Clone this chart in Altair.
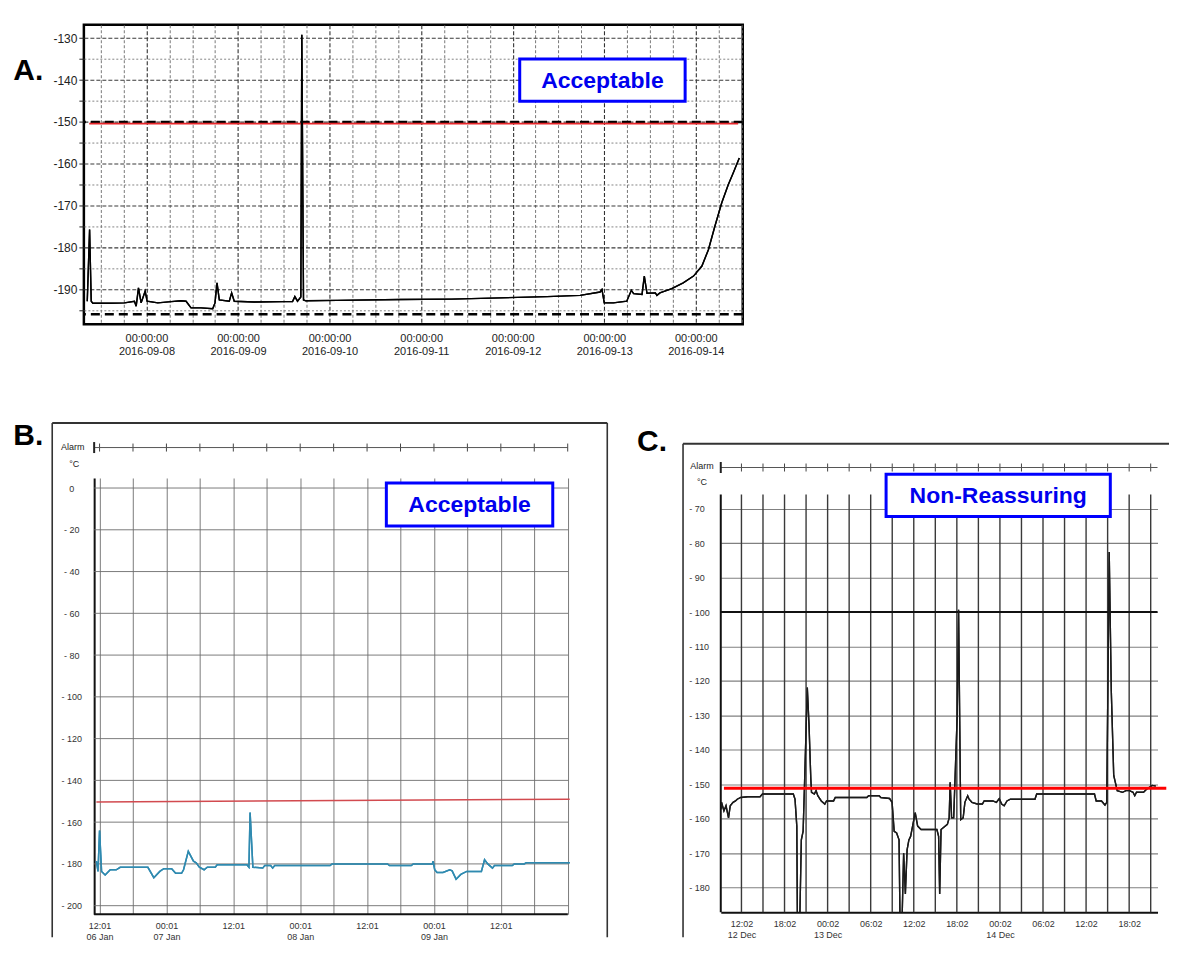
import altair as alt
import pandas as pd

FONT = "Liberation Sans"

# ---------------- Panel A : hours after 2016-09-08 00:00, temperature (°C) ----------------
A_BASE = "2016-09-08 00:00:00"
A_HOURS = [-15.51, -14.9, -14.47, -14.03, -10.1, -5.75, -3.14, -2.69, -2.09, -1.39, -0.34, 0.18,
           2.98, 6.46, 9.08, 10.39, 11.69, 14.31, 17.37, 17.97, 18.50, 19.10, 21.71, 22.33, 23.02,
           28.25, 36.1, 38.3, 38.9, 39.6, 40.47, 40.73, 41.17, 41.78, 50.0, 66.6, 80.0, 92.8, 105.0,
           113.7, 118.9, 119.4, 120.0, 122.4, 125.9, 127.1, 127.7, 129.9, 130.5, 131.2, 133.4, 133.8,
           134.6, 137.7, 140.7, 143.4, 145.6, 147.3, 149.0, 150.8, 152.5, 153.8, 155.4]
A_TEMP = [-192.8, -175.7, -192.8, -193.3, -193.3, -193.2, -192.8, -194.0, -189.6, -193.2, -190.4, -192.8,
          -193.2, -192.9, -192.7, -192.8, -194.4, -194.4, -194.6, -193.2, -188.4, -192.5, -192.8, -190.8,
          -192.8, -193.0, -192.9, -192.9, -191.7, -192.8, -191.8, -129.2, -192.5, -192.7, -192.6, -192.4,
          -192.3, -192.0, -191.7, -191.4, -190.6, -190.0, -193.2, -193.2, -192.8, -190.2, -191.0, -191.2,
          -186.8, -190.9, -190.8, -191.4, -190.8, -189.8, -188.4, -186.8, -184.4, -180.5, -174.9, -169.3,
          -165.0, -162.2, -158.6]
A_DASHED_LEVELS = [-150.0, -195.9]
A_RED_LEVEL = [-150.4]
A_RED_SPAN_HOURS = [-15.0, 155.1]
A_X_DOMAIN_HOURS = [-16.4, 156.3]
A_Y_DOMAIN = [-198.3, -126.8]
A_Y_TICKS = list(range(-195, -129, 5))
A_X_GRID_HOURS = list(range(-12, 157, 6))
A_NOTE = ["Acceptable"]

# ---------------- Panel B : hours after 06 Jan 12:01 ----------------
B_BASE = "2017-01-06 12:01:00"
B_HOURS = [-0.57, -0.28, 0.0, 0.36, 1.0, 1.92, 2.99, 3.7, 8.67, 9.74, 10.81, 11.52, 12.94, 13.65, 14.71,
           15.07, 15.92, 16.85, 17.34, 17.91, 18.76, 19.33, 20.76, 21.11, 26.44, 26.8, 27.01, 27.51, 29.28,
           29.64, 30.71, 31.06, 31.42, 41.37, 41.72, 51.67, 52.03, 55.93, 56.29, 59.7, 59.85, 60.13, 60.56,
           61.62, 62.83, 63.26, 63.97, 64.82, 65.88, 68.51, 69.08, 69.65, 70.5, 70.86, 74.06, 74.41, 76.19,
           76.55, 84.36]
B_TEMP = [-178.7, -183.6, -164.0, -183.6, -185.3, -182.8, -182.8, -181.6, -181.6, -186.6, -183.6, -182.3,
          -182.3, -184.5, -184.5, -182.8, -174.0, -178.7, -179.5, -181.6, -182.8, -181.6, -181.6, -180.4,
          -180.4, -181.6, -155.4, -181.6, -182.0, -180.8, -180.8, -182.0, -180.8, -180.8, -180.0, -180.0,
          -180.8, -180.8, -180.0, -180.0, -178.7, -182.8, -184.1, -184.1, -182.8, -183.3, -187.3, -185.0,
          -183.6, -183.6, -178.0, -180.0, -182.0, -180.8, -180.8, -180.0, -180.0, -179.5, -179.5]
B_RED_HOURS = [-0.57, 84.36]
B_RED_TEMP = [-150.3, -149.0]
B_X_DOMAIN_HOURS = [-0.97, 84.47]
B_Y_DOMAIN = [-204.1, 4.8]
B_Y_TICKS = list(range(-200, 1, 20))
B_X_GRID_HOURS = list(range(0, 85, 6))
B_NOTE = ["Acceptable"]

# ---------------- Panel C : hours after 12 Dec 12:02 ----------------
C_BASE = "2016-12-12 12:02:00"
C_HOURS = [-2.85, -2.78, -2.44, -2.15, -1.8, -1.56, -1.17, -0.83, -0.59, -0.1, 0.88, 2.59, 2.93, 7.22,
           7.46, 7.71, 7.8, 8.1, 8.34, 8.59, 8.78, 9.02, 9.17, 9.41, 9.66, 9.76, 10.15, 10.39, 10.63, 11.12,
           11.61, 11.85, 12.83, 13.07, 17.46, 17.71, 19.17, 19.41, 20.63, 20.98, 21.27, 21.61, 21.95, 22.1,
           22.34, 22.59, 22.83, 23.07, 23.32, 23.56, 24.2, 24.54, 25.02, 27.22, 27.46, 27.61, 27.8, 28.68,
           28.93, 29.07, 29.27, 29.56, 30.05, 30.24, 30.54, 30.88, 31.12, 31.51, 31.71, 32.1, 32.83, 33.56,
           33.8, 35.02, 35.51, 35.9, 36.24, 36.59, 36.98, 37.46, 40.88, 41.12, 49.17, 49.41, 50.15, 50.63,
           50.88, 51.22, 51.51, 51.85, 52.34, 53.07, 53.56, 54.05, 54.54, 54.78, 55.02, 56.0, 56.49, 57.22,
           57.71]
C_TEMP = [-157.2, -155.2, -157.7, -156.2, -159.7, -156.2, -155.2, -154.8, -154.3, -153.8, -153.6, -153.6,
          -152.8, -152.8, -154.3, -162.1, -192.0, -192.0, -166.1, -163.6, -150.3, -132.7, -121.9, -132.7,
          -148.4, -152.3, -152.8, -151.8, -153.3, -154.8, -155.7, -154.8, -154.8, -153.8, -153.8, -153.3,
          -153.3, -153.8, -154.1, -155.2, -163.6, -164.1, -166.1, -192.0, -192.0, -170.0, -181.8, -169.0,
          -166.1, -165.1, -158.2, -162.1, -163.1, -163.1, -165.1, -181.8, -163.1, -161.6, -159.7, -149.4,
          -159.7, -159.7, -130.0, -99.3, -160.2, -159.7, -155.2, -153.3, -154.3, -155.2, -155.7, -155.7,
          -154.8, -154.8, -155.2, -154.1, -155.7, -156.2, -154.8, -154.3, -154.3, -152.8, -152.8, -154.8,
          -154.8, -156.0, -155.2, -82.6, -122.8, -147.4, -151.8, -152.3, -151.8, -151.8, -152.3, -153.3,
          -152.3, -152.3, -151.3, -150.3, -150.5]
C_RED_HOURS = [-2.44, 59.17]
C_RED_LEVEL = -151.1
C_X_DOMAIN_HOURS = [-2.88, 57.95]
C_Y_DOMAIN = [-187.1, -61.1]
C_Y_TICKS = list(range(-180, -69, 10))
C_X_GRID_HOURS = list(range(0, 58, 3))
C_LABEL_HOURS = list(range(0, 55, 6))
C_GRID_TOP = -65.9
C_STRONG_LEVEL = [-100]
C_NOTE = ["Non-Reassuring"]


def stamps(base, hours):
    b = pd.Timestamp(base)
    return [(b + pd.Timedelta(hours=h)).round("s") for h in hours]


def dt(ts):
    return alt.DateTime(year=ts.year, month=ts.month, date=ts.day,
                        hours=ts.hour, minutes=ts.minute, seconds=ts.second)


def dts(base, hours):
    return [dt(s) for s in stamps(base, hours)]


def one(**kw):
    return alt.Chart(pd.DataFrame({k: [v] for k, v in kw.items()}))


def letter(txt, x, y):
    return one(p=txt).mark_text(font=FONT, fontSize=30, fontWeight="bold", align="left",
                                baseline="alphabetic", color="black").encode(
        x=alt.value(x), y=alt.value(y), text="p:N")


def note(txt, x1, x2, y1, y2):
    box = one(p=txt).mark_rect(fill="white", stroke="#0000ff", strokeWidth=3).encode(
        x=alt.value(x1), x2=alt.value(x2), y=alt.value(y1), y2=alt.value(y2))
    lab = one(p=txt).mark_text(font=FONT, fontSize=23, fontWeight="bold", color="#0000ee",
                               align="center", baseline="middle").encode(
        x=alt.value((x1 + x2) / 2), y=alt.value((y1 + y2) / 2 + 1), text="p:N")
    return [box, lab]


def vrule(x1, x2, y, w=1.5, color="#222"):
    return one(k=0).mark_rule(color=color, strokeWidth=w).encode(
        x=alt.value(x1), x2=alt.value(x2), y=alt.value(y))


def hrule(x, y1, y2, w=1.5, color="#222"):
    return one(k=0).mark_rule(color=color, strokeWidth=w).encode(
        x=alt.value(x), y=alt.value(y1), y2=alt.value(y2))


def small_text(txt, x, y, size=9):
    return one(p=txt).mark_text(font=FONT, fontSize=size, color="#222", align="center",
                                baseline="middle").encode(x=alt.value(x), y=alt.value(y), text="p:N")


def cond(test, yes, no):
    return {"condition": {"test": test, "value": yes}, "value": no}


MANY = 500   # keep every explicit tick value (Vega thins them down to tickCount otherwise)

# ======================= Panel A =======================
a_xs = alt.Scale(domain=dts(A_BASE, A_X_DOMAIN_HOURS), nice=False)
a_ys = alt.Scale(domain=A_Y_DOMAIN, nice=False, zero=False)
a_df = pd.DataFrame({"t": stamps(A_BASE, A_HOURS), "v": A_TEMP})

A_X_MAJOR = "hours(datum.value) == 0"
A_Y_MAJOR = "abs(datum.value) % 10 == 0"
a_line = alt.Chart(a_df).mark_line(color="black", strokeWidth=1.4).encode(
    x=alt.X("t:T", scale=a_xs, title=None, axis=alt.Axis(
        values=dts(A_BASE, A_X_GRID_HOURS), tickCount=MANY,
        labelExpr="hours(datum.value) == 0 ? [timeFormat(datum.value, '%H:%M:%S'), timeFormat(datum.value, '%Y-%m-%d')] : ''",
        grid=True, gridDash=cond(A_X_MAJOR, [4, 2], [3, 2]),
        gridColor=cond(A_X_MAJOR, "#333", "#6a6a6a"), gridWidth=cond(A_X_MAJOR, 1.1, 0.9),
        ticks=False, domain=False,
        labelFont=FONT, labelFontSize=11, labelColor="#222", labelPadding=8, labelLineHeight=13,
        labelOverlap=False, labelFlush=False, labelBaseline="top")),
    y=alt.Y("v:Q", scale=a_ys, title=None, axis=alt.Axis(
        values=A_Y_TICKS, tickCount=MANY,
        labelExpr="abs(datum.value) % 10 == 0 ? '-' + abs(datum.value) : ''",
        grid=True, gridDash=cond(A_Y_MAJOR, [4, 2], [2, 2]),
        gridColor=cond(A_Y_MAJOR, "#3a3a3a", "#777777"), gridWidth=cond(A_Y_MAJOR, 1.1, 0.9),
        ticks=True, tickSize=5,
        tickColor="#222", domain=False, labelFont=FONT, labelFontSize=12, labelColor="#222",
        labelPadding=2, labelOverlap=False, labelFlush=False)),
)
a_dash = alt.Chart(pd.DataFrame({"v": A_DASHED_LEVELS})).mark_rule(
    color="black", strokeWidth=2.6, strokeDash=[9, 5]).encode(y=alt.Y("v:Q", scale=a_ys, title=None))
a_red_df = pd.DataFrame({"t1": stamps(A_BASE, [A_RED_SPAN_HOURS[0]]),
                         "t2": stamps(A_BASE, [A_RED_SPAN_HOURS[1]]), "v": A_RED_LEVEL})
a_red = alt.Chart(a_red_df).mark_rule(color="#e8262a", strokeWidth=1.8).encode(
    x=alt.X("t1:T", scale=a_xs, title=None), x2="t2:T", y=alt.Y("v:Q", scale=a_ys, title=None))
a_line2 = alt.Chart(a_df).mark_line(color="black", strokeWidth=1.4).encode(
    x=alt.X("t:T", scale=a_xs, title=None), y=alt.Y("v:Q", scale=a_ys, title=None))

panel_a = alt.layer(
    a_line, a_dash, a_red, a_line2,
    *note(A_NOTE[0], 436.6, 602.3, 34.3, 76.7),
    letter("A.", -70.7, 55),
).properties(width=660, height=300,
             view=alt.ViewBackground(stroke="black", strokeWidth=2.5))

# ======================= Panel B =======================
BS = 10.3                 # plot starts this far right of the shared left edge
BW, BH = 477 + BS, 437
b_xs = alt.Scale(domain=dts(B_BASE, B_X_DOMAIN_HOURS), range=[BS, BW], nice=False)
b_ys = alt.Scale(domain=B_Y_DOMAIN, nice=False, zero=False)
b_df = pd.DataFrame({"t": stamps(B_BASE, B_HOURS), "v": B_TEMP})
b_base = alt.Chart(b_df).mark_line(color="#2f8ab0", strokeWidth=1.5).encode(
    x=alt.X("t:T", scale=b_xs, title=None, axis=alt.Axis(
        values=dts(B_BASE, B_X_GRID_HOURS), tickCount=MANY,
        labelExpr="date(datum.value) == 10 ? '' : ((hours(datum.value) == 0 || (date(datum.value) == 6 && hours(datum.value) == 12)) ? [timeFormat(datum.value, '%H:%M'), timeFormat(datum.value, '%d %b')] : (hours(datum.value) == 12 ? timeFormat(datum.value, '%H:%M') : ''))",
        grid=True, gridColor="#6d6d6d", gridWidth=0.9, ticks=False, tickSize=0, domain=False,
        labelFont=FONT, labelFontSize=9, labelColor="#333",
        labelPadding=7, labelLineHeight=11, labelOverlap=False, labelFlush=False, labelBaseline="top")),
    y=alt.Y("v:Q", scale=b_ys, title=None, axis=alt.Axis(
        values=B_Y_TICKS, tickCount=MANY, offset=-BS,
        labelExpr="datum.value == 0 ? '0' : '- ' + abs(datum.value)",
        grid=False, ticks=False, tickSize=0, domain=True,
        domainColor="#111", domainWidth=2, labelFont=FONT, labelFontSize=9, labelColor="#333",
        labelPadding=23, labelAlign="center", labelOverlap=False, labelFlush=False)),
)
b_hgrid = alt.Chart(pd.DataFrame({"v": B_Y_TICKS})).mark_rule(color="#6d6d6d", strokeWidth=0.9).encode(
    y=alt.Y("v:Q", scale=b_ys, title=None), x=alt.value(BS), x2=alt.value(BW - 2))
b_red_df = pd.DataFrame({"t": stamps(B_BASE, B_RED_HOURS), "v": B_RED_TEMP})
b_red = alt.Chart(b_red_df).mark_line(color="#d24a4f", strokeWidth=1.5).encode(
    x=alt.X("t:T", scale=b_xs, title=None), y=alt.Y("v:Q", scale=b_ys, title=None))
b_alarm_ticks = alt.Chart(pd.DataFrame({"t": stamps(B_BASE, B_X_GRID_HOURS)})).mark_rule(
    color="#444", strokeWidth=1).encode(
    x=alt.X("t:T", scale=b_xs, title=None), y=alt.value(-34.5), y2=alt.value(-26.5))
b_line2 = alt.Chart(b_df).mark_line(color="#2f8ab0", strokeWidth=1.5).encode(
    x=alt.X("t:T", scale=b_xs, title=None), y=alt.Y("v:Q", scale=b_ys, title=None))

panel_b = alt.layer(
    b_base, b_hgrid, b_red, b_alarm_ticks, b_line2,
    vrule(BS, BW - 2.5, BH, w=2, color="#111"),
    vrule(BS, BW - 2.5, -30.5, w=1, color="#555"),
    hrule(BS, -36, -25, w=2, color="#222"),
    small_text("Alarm", BS - 21.5, -31.5),
    small_text("°C", BS - 20, -14),
    hrule(BS - 42, -55, 460, w=1.6, color="#333"),
    hrule(BS + 514, -55, 460, w=1.6, color="#333"),
    vrule(BS - 42, BS + 514, -55, w=2, color="#333"),
    *note(B_NOTE[0], BS + 292.7, BS + 459.4, 5, 48),
    letter("B.", -70.7, -33),
).properties(width=BW, height=BH)

# ======================= Panel C =======================
CW, CH = 437.5, 435
c_xs = alt.Scale(domain=dts(C_BASE, C_X_DOMAIN_HOURS), nice=False)
c_ys = alt.Scale(domain=C_Y_DOMAIN, nice=False, zero=False)
c_df = pd.DataFrame({"t": stamps(C_BASE, C_HOURS), "v": C_TEMP})
c_base = alt.Chart(c_df).mark_line(color="#1a1a1a", strokeWidth=1.4, clip=True).encode(
    x=alt.X("t:T", scale=c_xs, title=None, axis=alt.Axis(
        values=dts(C_BASE, C_LABEL_HOURS), tickCount=MANY,
        labelExpr="(hours(datum.value) == 0 || (date(datum.value) == 12 && hours(datum.value) == 12)) ? [timeFormat(datum.value, '%H:%M'), timeFormat(datum.value, '%d %b')] : timeFormat(datum.value, '%H:%M')",
        grid=False, ticks=False, tickSize=0, domain=True, domainColor="#111", domainWidth=2,
        labelFont=FONT, labelFontSize=9, labelColor="#333", labelPadding=7, labelLineHeight=11,
        labelOverlap=False, labelFlush=False, labelBaseline="top")),
    y=alt.Y("v:Q", scale=c_ys, title=None, axis=alt.Axis(
        values=C_Y_TICKS, tickCount=MANY,
        labelExpr="'- ' + abs(datum.value)",
        grid=True, gridColor="#808080", gridWidth=1.1, ticks=False, tickSize=0, domain=False,
        labelFont=FONT, labelFontSize=9, labelColor="#333", labelPadding=32, labelAlign="left",
        labelOverlap=False, labelFlush=False)),
)
c_grid_df = pd.DataFrame({"t": stamps(C_BASE, C_X_GRID_HOURS), "top": C_GRID_TOP,
                          "bottom": C_Y_DOMAIN[0]})
c_vgrid = alt.Chart(c_grid_df).mark_rule(color="#3a3a3a", strokeWidth=1.4).encode(
    x=alt.X("t:T", scale=c_xs, title=None), y=alt.Y("top:Q", scale=c_ys, title=None), y2="bottom:Q")
c_axis_df = pd.DataFrame({"t": stamps(C_BASE, [C_X_DOMAIN_HOURS[0]]), "top": [C_GRID_TOP],
                          "bottom": [C_Y_DOMAIN[0]]})
c_yaxis = alt.Chart(c_axis_df).mark_rule(color="#111", strokeWidth=2).encode(
    x=alt.X("t:T", scale=c_xs, title=None), y=alt.Y("top:Q", scale=c_ys, title=None), y2="bottom:Q")
c_strong = alt.Chart(pd.DataFrame({"v": C_STRONG_LEVEL})).mark_rule(color="#111", strokeWidth=2).encode(
    y=alt.Y("v:Q", scale=c_ys, title=None))
c_red_df = pd.DataFrame({"t1": stamps(C_BASE, [C_RED_HOURS[0]]), "t2": stamps(C_BASE, [C_RED_HOURS[1]]),
                         "v": [C_RED_LEVEL]})
c_red = alt.Chart(c_red_df).mark_rule(color="#ff0000", strokeWidth=3).encode(
    x=alt.X("t1:T", scale=c_xs, title=None), x2="t2:T", y=alt.Y("v:Q", scale=c_ys, title=None))
c_alarm_ticks = alt.Chart(pd.DataFrame({"t": stamps(C_BASE, C_X_GRID_HOURS)})).mark_rule(
    color="#444", strokeWidth=1).encode(
    x=alt.X("t:T", scale=c_xs, title=None), y=alt.value(-14.5), y2=alt.value(-6.5))
c_line2 = alt.Chart(c_df).mark_line(color="#1a1a1a", strokeWidth=1.4, clip=True).encode(
    x=alt.X("t:T", scale=c_xs, title=None), y=alt.Y("v:Q", scale=c_ys, title=None))

panel_c = alt.layer(
    c_base, c_vgrid, c_yaxis, c_strong, c_alarm_ticks, c_line2, c_red,
    vrule(0, 437.5, -10.5, w=1, color="#555"),
    hrule(0, -16, -5, w=2, color="#222"),
    small_text("Alarm", -18.8, -12),
    small_text("°C", -18.8, 4),
    hrule(-37.8, -34.3, 460, w=1.6, color="#333"),
    vrule(-37.8, 449, -34.3, w=2, color="#333"),
    *note(C_NOTE[0], 165.6, 390.2, -3.8, 38.6),
    letter("C.", -83.8, -27.5),
).properties(width=CW, height=CH)

chart = alt.vconcat(
    panel_a,
    alt.hconcat(panel_b, panel_c, spacing=27),
    spacing=62,
).properties(
    padding={"left": 4, "top": 14, "right": 0, "bottom": 0}
).configure_view(stroke="transparent")

chart.save("out.html", embed_options={"renderer": "svg", "actions": False})
